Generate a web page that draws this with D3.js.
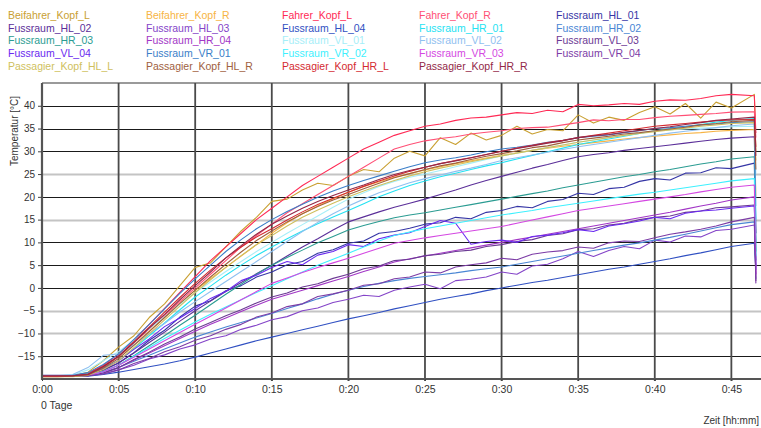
<!DOCTYPE html>
<html><head><meta charset="utf-8">
<script src="https://cdn.jsdelivr.net/npm/d3@7/dist/d3.min.js"></script>
<style>body{margin:0;background:#fff;} svg{display:block;font-family:"Liberation Sans",Arial,sans-serif;}</style>
</head><body><svg id="c" width="761" height="428"></svg>
<script>
// time in minutes
const minutes = [0,1,2,3,4,5,6,7,8,9,10,11,12,13,14,15,16,17,18,19,20,21,22,23,24,25,26,27,28,29,30,31,32,33,34,35,36,37,38,39,40,41,42,43,44,45,46.5,46.6];
const xTicks = [0,5,10,15,20,25,30,35,40,45];
const xTickLabels = ["0:00","0:05","0:10","0:15","0:20","0:25","0:30","0:35","0:40","0:45"];
const yTicks = [-15,-10,-5,0,5,10,15,20,25,30,35,40];
const yDarkTicks = [40,35,30,20,10,5,0,-15];

const seriesNames = [
 "Beifahrer_Kopf_L","Beifahrer_Kopf_R","Fahrer_Kopf_L","Fahrer_Kopf_R","Fussraum_HL_01",
 "Fussraum_HL_02","Fussraum_HL_03","Fussraum_HL_04","Fussraum_HR_01","Fussraum_HR_02",
 "Fussraum_HR_03","Fussraum_HR_04","Fussraum_VL_01","Fussraum_VL_02","Fussraum_VL_03",
 "Fussraum_VL_04","Fussraum_VR_01","Fussraum_VR_02","Fussraum_VR_03","Fussraum_VR_04",
 "Passagier_Kopf_HL_L","Passagier_Kopf_HL_R","Passagier_Kopf_HR_L","Passagier_Kopf_HR_R"];
const seriesColors = [
 "#c9a032","#f7b445","#ff2a55","#ff4f75","#3535a5",
 "#5b2f99","#8444c8","#3050c2","#25e2f2","#4a86d4",
 "#2b9c92","#a236c6","#a6eef8","#8fc0f0","#6c3a94",
 "#6a2af0","#3a7ec8","#3ef0fe","#d448e2","#7c3ca6",
 "#cfbf5e","#a0603e","#d42a30","#922848"];

const beifahrerKopfL = [-19.4,-19.4,-19.3,-18.5,-16,-13,-10.5,-6.5,-3.5,0.5,4.5,5.5,9,12.5,15.5,19,19.5,21.5,23,22.5,24.5,26,25.5,28.5,30,29,33,31.5,34,32.5,33.5,35.5,33.8,34.8,34.5,38,36.2,37.5,36.8,38.5,39.8,38.2,40.5,37.3,40.8,39.5,42.5,30];
const beifahrerKopfR = [-19.4,-19.4,-19.4,-19,-17.5,-15,-12.5,-9.5,-6.5,-3.5,-0.5,2,4.5,7,9.5,12,14.3,16.3,18,19.6,21,22.3,23.3,24.3,25.1,25.9,26.6,27.3,27.9,28.5,29.1,29.7,30.2,30.7,31.1,31.5,31.9,32.3,32.7,33,33.3,33.6,33.9,34.1,34.4,34.6,34.8,20];
const fahrerKopfL = [-19.3,-19.3,-19.2,-18.8,-17,-14.5,-11.5,-8,-4.5,-1,2.5,6,9,12,15,17.5,20,22.5,24.5,26.5,28.5,30.5,32,33.5,34.5,35.5,36,36.8,37.3,37.5,38,38.5,38.3,39,38.7,40.3,40,40.2,40.5,40.3,41,41.3,41.2,41.6,42.2,42.5,42.2,34];
const fahrerKopfR = [-19.3,-19.3,-19.3,-19,-17.5,-15,-12,-9,-6,-3,0,3,6,9,11.5,14,16.5,18.5,20.5,22.5,24.5,26.5,28.5,30.5,31.5,32.3,32.8,33.2,33.8,34.2,34.5,35,35.2,35.3,35.8,36.3,36.9,36.7,37,37,37.4,37.7,37.9,38.1,38.3,38.6,38.7,33];
const fussraumHL01 = [-19.2,-19.2,-19.2,-19,-18,-16.5,-14.2,-11.5,-9.3,-6.4,-4,-2.8,-0.6,0.5,2.4,3.5,5.1,5.8,7.6,8.4,9.8,10.3,12,12.4,13.1,14,14.3,15.5,15.2,16.6,17,17.9,17.6,19,19.4,20.8,20.5,21.8,22.1,23.4,24,23.7,25.2,25.3,26.4,26.2,27.4,6];
const fussraumHL02 = [-19.4,-19.4,-19.4,-19.1,-18,-16.5,-14.3,-12,-9.7,-7.3,-5,-2.9,-0.8,1.2,3.1,5,7,9,10.8,12.7,14.5,15.6,16.7,17.7,18.6,19.5,20.5,21.5,22.6,23.6,24.5,25.4,26.3,27.1,28,28.8,29.3,29.7,30.2,30.6,31,31.4,31.8,32.2,32.6,32.9,33.2,12];
const fussraumHL03 = [-19.4,-19.4,-19.4,-19.3,-18.9,-18,-17,-15.6,-14.7,-13.4,-12.5,-11.2,-10.5,-9.1,-8.2,-7,-6.3,-5,-4.4,-3.2,-2.5,-1.6,-1.9,-0.5,0.2,0.8,-0.2,1.6,1.9,2.4,3.5,3,4.8,5.2,6.4,8,6.9,8.2,9.1,8.6,10.5,10.1,11.4,11.2,12.6,12.9,13.8,2];
const fussraumHL04 = [-19.4,-19.4,-19.4,-19.4,-19,-18.5,-17.9,-17.3,-16.7,-16,-15.2,-14.3,-13.4,-12.5,-11.6,-10.8,-10,-9.2,-8.4,-7.6,-6.8,-6.1,-5.4,-4.6,-3.9,-3.2,-2.5,-1.9,-1.3,-0.6,0,0.6,1.2,1.7,2.3,2.9,3.5,4.1,4.6,5.2,5.8,6.4,7.1,7.7,8.4,9.1,9.8,4];
const fussraumHR01 = [-19.3,-19.3,-19.2,-18.8,-17.6,-16,-13.3,-10.5,-7.7,-4.8,-2,0.4,2.8,5,7.1,9,10.8,12.5,14.1,15.6,17,18.5,20,21.3,22.5,23.5,24.4,25.2,26,26.8,27.5,28.3,29.1,29.9,30.7,31.5,32.1,32.7,33.3,33.9,34.5,35,35.4,35.9,36.4,36.8,37.2,15];
const fussraumHR02 = [-19.4,-19.4,-19.4,-19.3,-18.6,-17.5,-16.1,-14.8,-13.4,-12.1,-10.8,-9.7,-8.6,-7.6,-6.6,-5.6,-4.5,-3.5,-2.4,-1.4,-0.5,0.3,1,1.6,2.1,2.5,2.9,3.3,3.8,4.2,4.6,5.2,5.8,6.4,7,7.6,8.2,8.8,9.4,9.9,10.5,11.1,11.8,12.5,13.2,13.9,14.5,5];
const fussraumHR03 = [-19.4,-19.4,-19.4,-19.2,-18.3,-17,-14.9,-12.7,-10.5,-8.2,-6,-3.7,-1.4,0.8,3,5,6.7,8.3,9.9,11.3,12.7,13.7,14.6,15.4,16,16.5,17.1,17.7,18.3,18.9,19.5,20.1,20.7,21.3,22,22.6,23.2,23.8,24.4,24.9,25.5,26,26.6,27.2,27.7,28.3,28.8,8];
const fussraumHR04 = [-19.4,-19.4,-19.4,-19.3,-18.6,-17.5,-15.9,-14.3,-12.7,-11.1,-9.5,-8,-6.6,-5.2,-3.8,-2.5,-1.5,-0.5,0.5,1.5,2.5,3.6,4.6,5.7,6.4,7,7.6,8.2,8.8,9.4,10,10.6,11.2,11.8,12.4,13,13.6,14.2,14.8,15.4,16,16.6,17.3,18,18.6,19.3,20,3];
const fussraumVL01 = [-19.3,-19.3,-19.1,-18,-16,-14,-11.5,-8.9,-6.3,-3.6,-1,1.3,3.6,5.8,8,10,12,13.9,15.8,17.7,19.5,20.9,22.3,23.4,24.3,25,25.8,26.6,27.4,28.2,29,29.6,30.2,30.8,31.4,32,32.5,33,33.5,34,34.5,34.7,34.9,35.1,35.2,35.4,35.5,25];
const fussraumVL02 = [-19.3,-19.3,-19,-17.5,-14.8,-14.5,-12.5,-10,-7.8,-5.3,-3,-0.8,1.4,3.6,5.8,8,10.2,12.4,14.4,16.3,18,19.5,20.9,22,23.1,24,24.8,25.6,26.3,27.1,28,28.6,29.2,29.8,30.4,31,31.5,32,32.5,33,33.5,34,34.4,34.8,35.2,35.6,36,18];
const fussraumVL03 = [-19.4,-19.4,-19.4,-19.3,-18.7,-17.5,-15.7,-14.1,-12.3,-10.8,-9,-7.6,-6.1,-4.8,-3.3,-2,-1.1,0.2,0.9,2.1,3,4.2,4.8,6,6.3,7.1,7.4,8,8.3,9.1,9.5,10.2,10.6,11.5,11.9,12.8,13,13.8,14.2,15,15.5,15.8,16.6,16.9,17.6,17.8,18.2,1.5];
const fussraumVL04 = [-19.3,-19.3,-19.3,-19,-17.8,-16,-13.5,-11.2,-8.5,-6.6,-4.5,-2.3,-0.8,1.6,2.8,4.5,5.8,5.1,7.2,8,9.5,9.1,10.8,11.6,12.1,13.5,14.8,14.2,9.6,10.2,10.5,10,11.3,11.6,12.1,12.8,12.4,13.6,14.1,14.7,15.5,15.2,16.4,16.9,17.1,17.5,18,4.5];
const fussraumVR01 = [-19.3,-19.3,-19.2,-18.6,-16.8,-14.5,-11.3,-8,-4.6,-1.2,2,5,8,10.6,13,15,16.8,18.4,19.9,21.3,22.5,23.6,24.6,25.6,26.6,27.5,28.1,28.6,29.2,29.9,30.5,30.9,31.4,32,32.4,33,33.3,33.6,34.1,34.5,35,35.2,35.5,35.8,36,36.3,36.5,10];
const fussraumVR02 = [-19.4,-19.4,-19.4,-19.2,-18.4,-17,-15,-13.1,-11.1,-9.3,-7.5,-5.8,-4.2,-2.6,-1,0.5,2,3.5,5,6.3,7.6,9,10.3,11.5,12.3,13,13.6,14.2,14.8,15.4,16,16.5,17,17.6,18.1,18.6,19.1,19.6,20.1,20.6,21,21.5,22,22.5,23,23.5,24,7];
const fussraumVR03 = [-19.4,-19.4,-19.4,-19.2,-18.4,-17,-15.2,-13.4,-11.6,-9.8,-8,-6.2,-4.4,-2.6,-0.8,1,2.2,3.4,4.5,5.5,6.5,7.6,8.7,9.8,10.4,11,11.5,12,12.5,13,13.5,14.2,14.9,15.6,16.3,17,17.5,18,18.5,19,19.5,20,20.5,21.1,21.6,22.1,22.6,3];
const fussraumVR04 = [-19.4,-19.4,-19.4,-19.3,-18.9,-18,-16.6,-15.5,-14,-12.9,-11.5,-10.5,-9.1,-8,-6.4,-5.5,-4.1,-3.5,-1.9,-1.3,-0.5,0.6,0.9,2,2.4,3.5,3.3,4.6,5.1,5.5,6.5,6.2,7.4,7.9,8.2,9,8.7,9.9,10.3,10.2,11,11.8,12.3,12.9,13.6,14.5,15.5,1];
const passagierKopfHLL = [-19.5,-19.5,-19.5,-19.2,-17.9,-16,-13.1,-10.1,-7,-4,-1,1.8,4.5,7.1,9.5,11.5,13.6,15.5,17.1,18.6,20,21.3,22.5,23.6,24.6,25.5,26.3,27,27.7,28.4,29,29.6,30.2,30.8,31.4,32,32.5,33,33.5,33.9,34.3,34.7,35.1,35.5,35.8,36.1,36.3,28];
const passagierKopfHLR = [-19.5,-19.5,-19.4,-19.1,-17.6,-15.5,-12.6,-9.6,-6.5,-3.4,-0.5,2.4,5.2,7.9,10.4,12.5,14.5,16.3,17.9,19.3,20.5,21.8,23,24.2,25.1,26,26.8,27.4,28.2,28.9,29.5,30.1,30.8,31.2,31.9,32.5,32.9,33.3,33.8,34.1,34.5,34.9,35.3,35.8,36.1,36.5,36.8,26];
const passagierKopfHRL = [-19.4,-19.4,-19.3,-18.9,-17.2,-15,-11.8,-8.6,-5.3,-2.1,1,3.9,6.6,9,11.2,13,14.9,16.7,18.3,19.7,21,22.3,23.5,24.6,25.6,26.5,27.3,28,28.6,29.3,30,30.7,31.3,31.9,32.4,33,33.5,34,34.5,35,35.5,35.8,36.1,36.4,36.7,36.9,37,31];
const passagierKopfHRR = [-19.3,-19.3,-19.3,-19,-17.3,-15,-12,-8.8,-5.8,-2.6,0.5,3.5,6.6,9.3,11.8,14,15.8,17.5,19,20.3,21.5,22.6,23.8,24.9,25.8,26.5,27.3,27.9,28.6,29.3,30,30.6,31.2,31.8,32.3,33,33.4,33.7,34.2,34.6,35,35.4,35.9,36.3,36.8,37.1,37.5,29];

const seriesValues = [beifahrerKopfL,beifahrerKopfR,fahrerKopfL,fahrerKopfR,fussraumHL01,
 fussraumHL02,fussraumHL03,fussraumHL04,fussraumHR01,fussraumHR02,
 fussraumHR03,fussraumHR04,fussraumVL01,fussraumVL02,fussraumVL03,
 fussraumVL04,fussraumVR01,fussraumVR02,fussraumVR03,fussraumVR04,
 passagierKopfHLL,passagierKopfHLR,passagierKopfHRL,passagierKopfHRR];

const svg = d3.select("#c");
const x = d3.scaleLinear().domain([0,47]).range([42,762]);
const y = d3.scaleLinear().domain([-20,45]).range([379,83]);

// legend
const legCols = [8,146,282,419,556];
seriesNames.forEach((n,i)=>{
  svg.append("text").attr("x",legCols[i%5]).attr("y",19+Math.floor(i/5)*12.7)
    .attr("font-size",10.5).attr("fill",seriesColors[i]).text(n);
});

// gridlines
const g = svg.append("g");
g.selectAll("line.h").data(yTicks).join("line")
  .attr("x1",42).attr("x2",761).attr("y1",d=>Math.round(y(d))+0.5).attr("y2",d=>Math.round(y(d))+0.5)
  .attr("stroke",d=>yDarkTicks.includes(d)?"#1a1a1a":"#c4c4c4")
  .attr("stroke-width",d=>yDarkTicks.includes(d)?1.2:2);
g.append("line").attr("x1",42).attr("x2",761).attr("y1",y(45)).attr("y2",y(45)).attr("stroke","#9a9a9a").attr("stroke-width",2);
g.selectAll("line.v").data(xTicks.slice(1)).join("line")
  .attr("x1",d=>x(d)).attr("x2",d=>x(d)).attr("y1",y(45)).attr("y2",y(-20)+2)
  .attr("stroke","#4a4a4a").attr("stroke-width",1.8);

// series
const line = d3.line().x((d,i)=>x(minutes[i])).y(d=>y(d));
seriesValues.forEach((vals,i)=>{
  svg.append("path").attr("d",line(vals)).attr("fill","none")
    .attr("stroke",seriesColors[i]).attr("stroke-width",1.1).attr("stroke-linejoin","round");
});

// axes lines
svg.append("line").attr("x1",42).attr("x2",42).attr("y1",y(45)).attr("y2",y(-20)+1).attr("stroke","#555").attr("stroke-width",2.2);
svg.append("line").attr("x1",41).attr("x2",761).attr("y1",y(-20)).attr("y2",y(-20)).attr("stroke","#555").attr("stroke-width",2.2);

// y ticks
const yAxis = d3.axisLeft(y).tickValues(yTicks).tickSize(4).tickPadding(3);
const ya = svg.append("g").attr("transform","translate(42,0)").call(yAxis);
ya.select(".domain").remove();
ya.selectAll("text").attr("font-size",10).attr("fill","#333").attr("font-family","Liberation Sans, Arial, sans-serif");
ya.selectAll("line").attr("stroke","#444");

// x ticks
const xAxis = d3.axisBottom(x).tickValues(xTicks).tickFormat((d,i)=>xTickLabels[i]).tickSize(2).tickPadding(5);
const xa = svg.append("g").attr("transform","translate(0,"+y(-20)+")").call(xAxis);
xa.select(".domain").remove();
xa.selectAll("text").attr("font-size",10.5).attr("fill","#333").attr("font-family","Liberation Sans, Arial, sans-serif");
xa.selectAll("line").attr("stroke","#444");

svg.append("text").attr("x",41).attr("y",409).attr("font-size",10.5).attr("fill","#333").text("0 Tage");
svg.append("text").attr("x",759).attr("y",424).attr("text-anchor","end").attr("font-size",10).attr("fill","#333").text("Zeit [hh:mm]");
svg.append("text").attr("transform","translate(18,131) rotate(-90)").attr("text-anchor","middle").attr("font-size",10).attr("fill","#333").text("Temperatur [°C]");
</script></body></html>
